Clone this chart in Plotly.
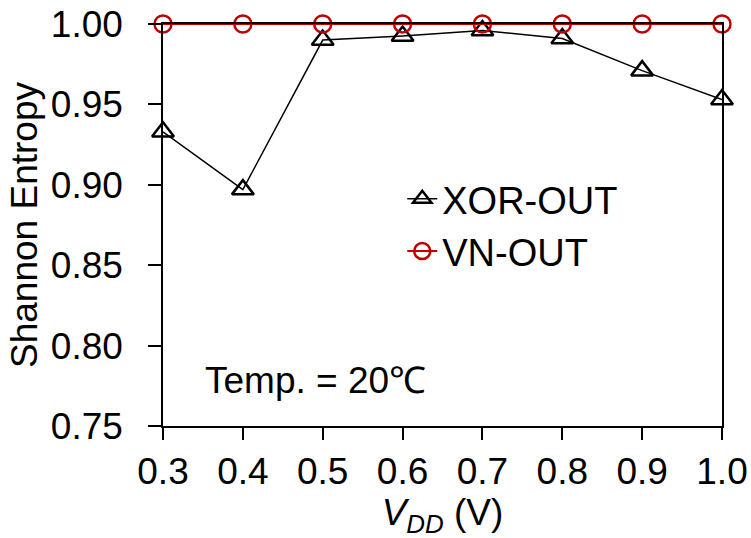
import plotly.graph_objects as go

vdd = [0.3, 0.4, 0.5, 0.6, 0.7, 0.8, 0.9, 1.0]
xor_out = [0.933, 0.897, 0.990, 0.9925, 0.996, 0.991, 0.971, 0.953]
vn_out = [1.0, 1.0, 1.0, 1.0, 1.0, 1.0, 1.0, 1.0]
x_ticks = [0.3, 0.4, 0.5, 0.6, 0.7, 0.8, 0.9, 1.0]
x_tick_labels = ["0.3", "0.4", "0.5", "0.6", "0.7", "0.8", "0.9", "1.0"]
y_ticks = [0.75, 0.80, 0.85, 0.90, 0.95, 1.00]
y_tick_labels = ["0.75", "0.80", "0.85", "0.90", "0.95", "1.00"]

FONT = "Liberation Sans, Arial, sans-serif"
RED = "#C00000"

fig = go.Figure()
fig.add_trace(go.Scatter(
    x=vdd, y=xor_out, name="XOR-OUT", mode="lines+markers",
    line=dict(color="black", width=1.5),
    marker=dict(symbol="triangle-up-open", size=19, color="black",
                line=dict(width=2.5, color="black")),
    cliponaxis=False,
))
fig.add_trace(go.Scatter(
    x=vdd, y=vn_out, name="VN-OUT", mode="lines+markers",
    line=dict(color=RED, width=2),
    marker=dict(symbol="circle-open", size=17, color=RED,
                line=dict(width=2.5, color=RED)),
    cliponaxis=False,
))

fig.add_annotation(
    x=0.0, y=0.12, xref="paper", yref="paper", xanchor="left", yanchor="middle",
    text="Temp. = 20\u2103", showarrow=False, xshift=40, yshift=-3,
    font=dict(family=FONT, size=37, color="black"),
)

fig.update_layout(
    width=751, height=538,
    margin=dict(l=163, r=29, t=24, b=112),
    paper_bgcolor="white", plot_bgcolor="white",
    font=dict(family=FONT, size=37, color="black"),
    showlegend=True,
    legend=dict(x=0.428, y=0.5, xanchor="left", yanchor="middle",
                bgcolor="rgba(0,0,0,0)", font=dict(size=38),
                itemwidth=30, tracegroupgap=0),
    xaxis=dict(
        range=[0.3, 1.0], tickvals=x_ticks, ticktext=x_tick_labels,
        showgrid=False, zeroline=False,
        showline=True, linecolor="black", linewidth=1.5, mirror=True,
        ticks="outside", ticklen=12, tickwidth=1.5, tickcolor="black",
        ticklabelstandoff=0,
        title=dict(text="<i>V</i><sub><i>DD</i></sub> (V)", standoff=4,
                   font=dict(size=37)),
        automargin=False,
    ),
    yaxis=dict(
        range=[0.75, 1.0], tickvals=y_ticks, ticktext=y_tick_labels,
        showgrid=False, zeroline=False,
        showline=True, linecolor="black", linewidth=1.5, mirror=True,
        ticks="outside", ticklen=13, tickwidth=1.5, tickcolor="black",
        ticklabelstandoff=18,
        title=dict(text="Shannon Entropy", standoff=2, font=dict(size=37)),
        automargin=False,
    ),
)

fig.write_html("out.html")
